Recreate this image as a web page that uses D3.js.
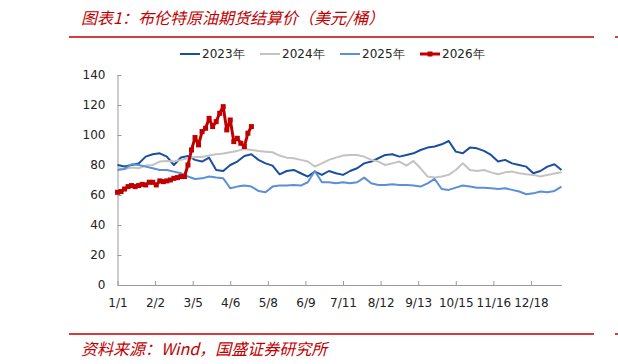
<!DOCTYPE html>
<html>
<head>
<meta charset="utf-8">
<script src="https://cdn.jsdelivr.net/npm/d3@7"></script>
<style>
body { margin: 0; background: #fff; }
</style>
</head>
<body>
<div id="chart"></div>
<script>
// x axis: one category per calendar day (MM-DD), a label every 32 categories
const tickLabels = ["1/1", "2/2", "3/5", "4/6", "5/8", "6/9", "7/11", "8/12", "9/13", "10/15", "11/16", "12/18"];
const tickEvery = 32;
const yTicks = [0, 20, 40, 60, 80, 100, 120, 140];

const seriesNames = ["2023年", "2024年", "2025年", "2026年"];
const fullStep = 6;   // categories between readings, full-year series
const redStep = 3;    // categories between readings, 2026

const y2023 = [80, 79, 80, 81, 85.6, 87.2, 87.8, 85.6, 80, 85, 86, 83.4, 82.3, 84.9, 76.7, 76,
    80, 82.3, 86, 87.2, 83.4, 81.1, 79.6, 73.8, 76, 76.7, 74.5, 72.3, 75.6, 73.4, 76, 74.5,
    73.4, 76, 77.8, 81.1, 82.3, 84.5, 86.7, 87.2, 85.6, 86.7, 87.8, 90, 91.6, 92.3, 93.8, 96,
    88.9, 87.8, 91.6, 91.1, 89.4, 86.7, 82.3, 83.4, 81.1, 80, 78.9, 74.5, 76, 78.9, 80.5, 76.7];
const y2024 = [77.8, 77.4, 78.3, 77.8, 79.6, 80, 82.3, 82.7, 82.3, 83.4, 84.5, 85.4, 85.4, 86.3, 87.2, 87.6,
    88.5, 89.4, 90.7, 90, 89.4, 88.9, 88.5, 86.3, 84.9, 84.5, 83.4, 82.3, 79, 81.1, 83.4, 84.9,
    86.3, 86.7, 86.7, 85.6, 83.4, 82.3, 80, 81.1, 82.3, 79.6, 82.7, 77.8, 72.3, 71.6, 72.3, 73.4,
    76.7, 81.1, 76.7, 76, 76.7, 75.1, 73.8, 75.1, 75.6, 74.5, 73.8, 73.4, 72.3, 73.4, 74.3, 75.1];
const y2025 = [76.7, 77.4, 80.5, 80, 78.9, 77.8, 76.7, 76.7, 75.6, 74.5, 72.3, 70.7, 71.1, 72.3, 71.6, 71.1,
    64.5, 65.6, 66.3, 65.6, 62.7, 61.8, 65.6, 66.3, 66.3, 66.7, 66.3, 68.5, 76, 68.5, 68.5, 67.8,
    68.5, 67.8, 68.5, 71.6, 67.8, 66.7, 66.7, 67.1, 66.7, 66.7, 66.3, 65.6, 67.8, 70.7, 64, 63.4,
    64.9, 66.3, 65.6, 64.9, 64.9, 64.5, 64, 64.5, 63.4, 62.3, 60.5, 61.1, 62.3, 61.8, 62.7, 65.6];
const y2026 = [61.8, 62.3, 64, 65.6, 66.3, 65.6, 66.3, 67.1, 66.7, 68.5, 68.5, 66.7, 69.4, 68.9, 69.4, 70,
    71.1, 71.6, 72.3, 72.3, 80, 90, 98.3, 93.4, 102.3, 104.5, 111.1, 105.6, 108.9, 114.5, 118.9, 103.4,
    110, 95.6, 97.8, 94.5, 92.3, 101.2, 105.6];

const colors = ["#1A4F9F", "#C3C3C3", "#5B8FD6", "#C00000"];
const width = 618, height = 364;

const svg = d3.select("#chart")
    .append("svg")
    .attr("width", width)
    .attr("height", height)
    .style("display", "block");

const x = d3.scaleLinear().domain([0, 378]).range([117.5, 561.5]);
const y = d3.scaleLinear().domain([0, 140]).range([285, 75]);

// title and red rules
svg.append("text")
    .attr("x", 81).attr("y", 24)
    .style("font-family", "'Noto Sans CJK SC', sans-serif")
    .style("font-size", "16px")
    .style("font-style", "italic")
    .attr("fill", "#C00000")
    .text("图表1：布伦特原油期货结算价（美元/桶）");

[37, 334].forEach(ly => {
    svg.append("line").attr("x1", 69).attr("x2", 594).attr("y1", ly).attr("y2", ly)
        .attr("stroke", "#C00000").attr("stroke-width", 1.5);
    svg.append("line").attr("x1", 615).attr("x2", 618).attr("y1", ly).attr("y2", ly)
        .attr("stroke", "#C00000").attr("stroke-width", 1.5);
});

svg.append("text")
    .attr("x", 81).attr("y", 355)
    .style("font-family", "'Noto Sans CJK SC', sans-serif")
    .style("font-size", "16px")
    .style("font-style", "italic")
    .attr("fill", "#C00000")
    .text("资料来源：Wind，国盛证券研究所");

// axes
const xAxis = d3.axisBottom(x)
    .tickValues(tickLabels.map((d, i) => i * tickEvery))
    .tickFormat((d, i) => tickLabels[i])
    .tickSizeInner(-4).tickSizeOuter(0).tickPadding(13);

const yAxis = d3.axisLeft(y)
    .tickValues(yTicks)
    .tickSizeInner(-4).tickSizeOuter(0).tickPadding(12);

const gx = svg.append("g").attr("transform", `translate(0,${y(0)})`).call(xAxis);
const gy = svg.append("g").attr("transform", `translate(${x(0)},0)`).call(yAxis);

[gx, gy].forEach(g => {
    g.select(".domain").attr("stroke", "#9A9A9A");
    g.selectAll(".tick line").attr("stroke", "#9A9A9A");
    g.selectAll(".tick text")
        .attr("fill", "#222")
        .style("font-family", "'DejaVu Sans', Verdana, sans-serif")
        .style("font-size", "12px");
});

// lines
const line = (stepSize) => d3.line()
    .x((d, i) => x(i * stepSize))
    .y(d => y(d));

const data = [
    { name: seriesNames[0], values: y2023, step: fullStep },
    { name: seriesNames[1], values: y2024, step: fullStep },
    { name: seriesNames[2], values: y2025, step: fullStep },
    { name: seriesNames[3], values: y2026, step: redStep }
];

svg.selectAll("path.series")
    .data(data)
    .enter()
    .append("path")
    .attr("class", "series")
    .attr("fill", "none")
    .attr("stroke", (d, i) => colors[i])
    .attr("stroke-width", (d, i) => i === 3 ? 3 : 2)
    .attr("stroke-linejoin", "round")
    .attr("d", d => line(d.step)(d.values));

svg.selectAll("rect.marker")
    .data(y2026)
    .enter()
    .append("rect")
    .attr("class", "marker")
    .attr("x", (d, i) => x(i * redStep) - 2.5)
    .attr("y", d => y(d) - 2.5)
    .attr("width", 5)
    .attr("height", 5)
    .attr("fill", colors[3]);

// legend
const legend = svg.append("g")
    .selectAll("g")
    .data(seriesNames)
    .enter()
    .append("g")
    .attr("transform", (d, i) => `translate(${180 + i * 80},54)`);

legend.append("line")
    .attr("x1", 0).attr("x2", 20)
    .attr("stroke", (d, i) => colors[i])
    .attr("stroke-width", (d, i) => i === 3 ? 3 : 2);

legend.filter((d, i) => i === 3)
    .append("rect")
    .attr("x", 7.5).attr("y", -2.5).attr("width", 5).attr("height", 5)
    .attr("fill", colors[3]);

legend.append("text")
    .attr("x", 22)
    .attr("dy", "0.35em")
    .attr("fill", "#222")
    .style("font-family", "'DejaVu Sans', Verdana, sans-serif")
    .style("font-size", "12px")
    .text(d => d);
</script>
</body>
</html>
